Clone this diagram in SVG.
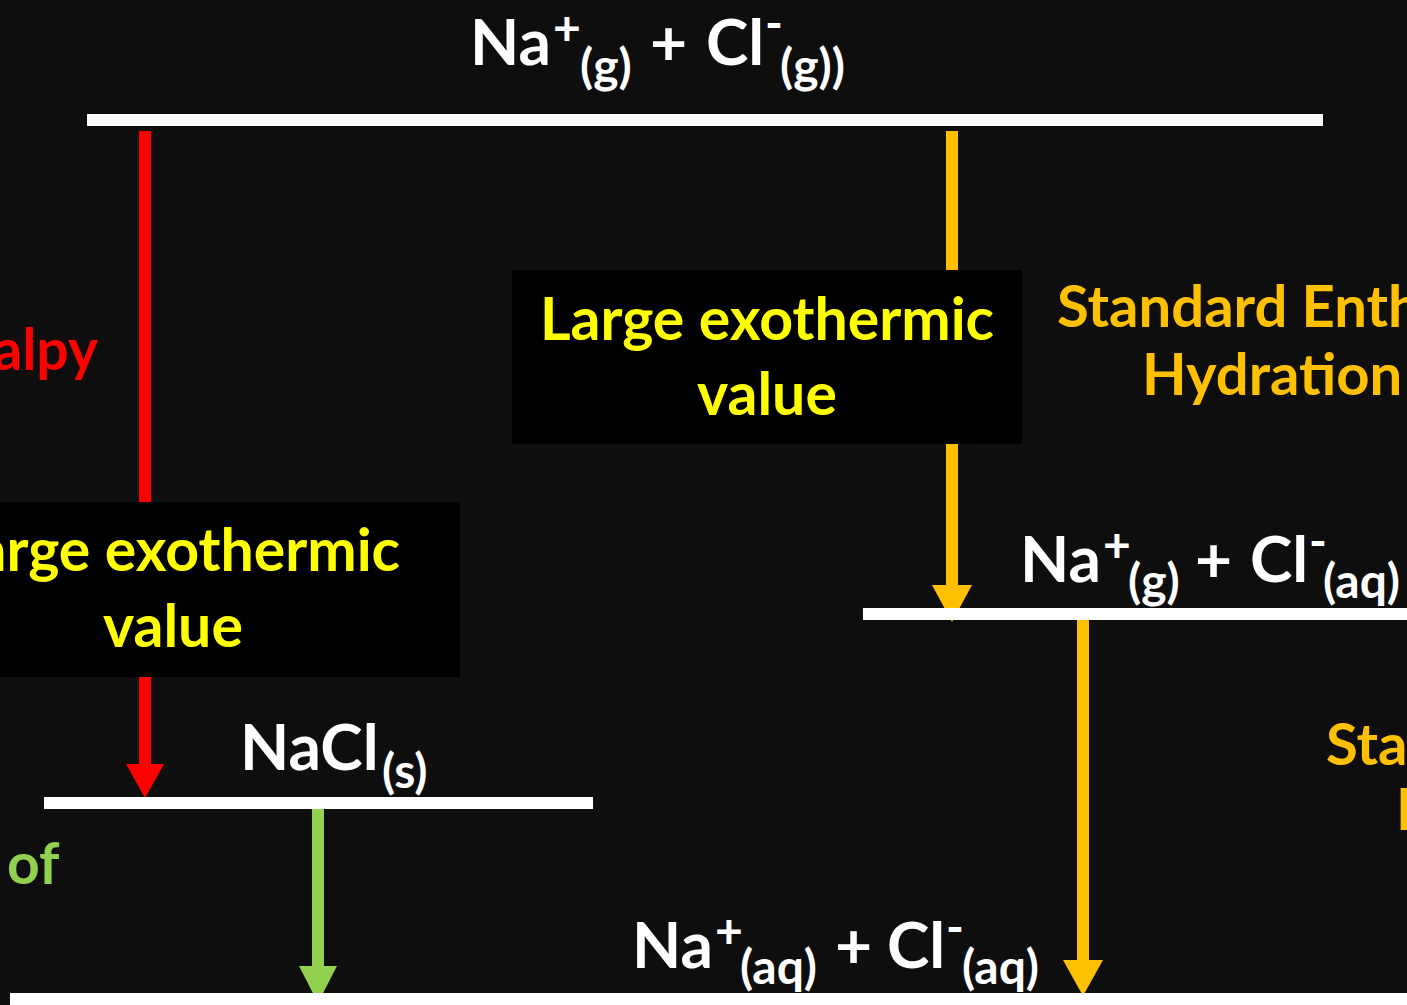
<svg xmlns="http://www.w3.org/2000/svg" width="1407" height="1005" viewBox="0 0 1407 1005">
<style>
text{font-family:Lato,"Open Sans","DejaVu Sans",sans-serif;font-weight:bold}
.w{fill:#ffffff}
.lvl{fill:#ffffff}
.big{font-size:64px}
.sm{font-size:48px}
.box{fill:#000000}
.bt{fill:#ffff00;font-size:59px;text-anchor:middle}
.red{fill:#ff0000;font-size:57px}
.org{fill:#ffc000;font-size:58px}
.grn{fill:#92d050;font-size:57px}
</style>
<rect width="1407" height="1005" fill="#0e0e0e"/>
<g id="connectors">
<path d="M145 131 V764" stroke="#ff0000" stroke-width="12"/>
<path d="M126 764 H164 L145 798 Z" fill="#ff0000"/>
<path d="M318 805 V967" stroke="#92d050" stroke-width="12"/>
<path d="M299 966 H337 L318 1003 Z" fill="#92d050"/>
<path d="M952 131 V586" stroke="#ffc000" stroke-width="12"/>
<path d="M932 585 H972 L952 622 Z" fill="#ffc000"/>
<path d="M1083 620 V961" stroke="#ffc000" stroke-width="12"/>
<path d="M1063 960 H1103 L1083 996 Z" fill="#ffc000"/>
</g>
<g id="level-gas">
<rect x="87" y="114" width="1236" height="12" class="lvl"/>
<text class="w"><tspan x="470" y="65" class="big">Na</tspan><tspan x="553" y="45" class="sm">+</tspan><tspan x="580" y="83" class="sm">(g)</tspan><tspan x="650" y="65" class="big">+</tspan><tspan x="706" y="65" class="big">Cl</tspan><tspan x="765" y="40" class="sm">-</tspan><tspan x="780" y="83" class="sm">(g))</tspan></text>
</g>
<g id="label-lattice">
<text class="red" x="98" y="370" text-anchor="end">alpy</text>
</g>
<g id="box-left">
<rect x="-10" y="502" width="470" height="175" class="box"/>
<text class="bt" x="173" y="571">Large exothermic</text>
<text class="bt" x="173" y="647">value</text>
</g>
<g id="box-right">
<rect x="512" y="270" width="510" height="174" class="box"/>
<text class="bt" x="767" y="340">Large exothermic</text>
<text class="bt" x="767" y="415">value</text>
</g>
<g id="label-hydration-cl">
<text class="org" x="1057" y="327">Standard Enth</text>
<text class="org" x="1142" y="395">Hydration</text>
</g>
<g id="level-nacl">
<rect x="44" y="797" width="549" height="12" class="lvl"/>
<text class="w"><tspan x="240" y="770" class="big">NaCl</tspan><tspan x="382" y="788" class="sm">(s)</tspan></text>
</g>
<g id="label-solution">
<text class="grn" x="7" y="884">of</text>
</g>
<g id="level-mixed">
<rect x="863" y="608" width="560" height="12" class="lvl"/>
<text class="w"><tspan x="1020" y="582" class="big">Na</tspan><tspan x="1103" y="562" class="sm">+</tspan><tspan x="1128" y="598" class="sm">(g)</tspan><tspan x="1195" y="582" class="big">+</tspan><tspan x="1250" y="582" class="big">Cl</tspan><tspan x="1309" y="558" class="sm">-</tspan><tspan x="1323" y="598" class="sm">(aq)</tspan></text>
</g>
<g id="label-hydration-na">
<text class="org" x="1326" y="765">Sta</text>
<text class="org" x="1396" y="830">H</text>
</g>
<g id="level-aq">
<rect x="10" y="993" width="1400" height="14" class="lvl"/>
<text class="w"><tspan x="632" y="968" class="big">Na</tspan><tspan x="715" y="948" class="sm">+</tspan><tspan x="740" y="984" class="sm">(aq)</tspan><tspan x="835" y="968" class="big">+</tspan><tspan x="887" y="968" class="big">Cl</tspan><tspan x="946" y="944" class="sm">-</tspan><tspan x="962" y="984" class="sm">(aq)</tspan></text>
</g>
</svg>
